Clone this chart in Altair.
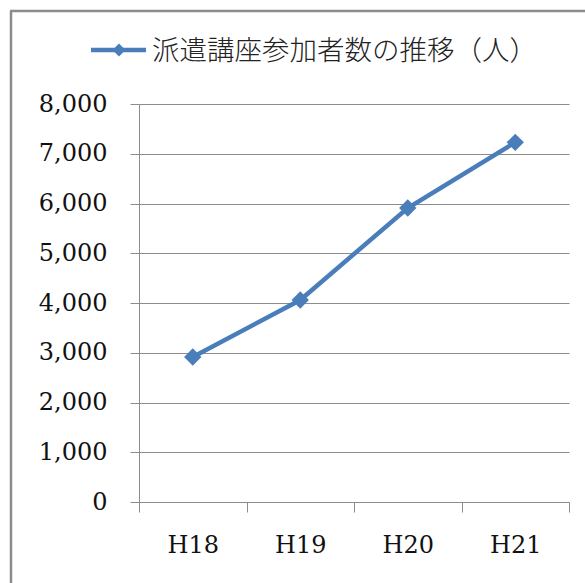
import altair as alt
import pandas as pd

# Participants in dispatched lectures by fiscal year
years = ["H18", "H19", "H20", "H21"]
participants = [2915, 4060, 5910, 7230]
y_ticks = [0, 1000, 2000, 3000, 4000, 5000, 6000, 7000, 8000]
legend_title = "派遣講座参加者数の推移（人）"

BLUE = "#4A7EBB"
GRAY = "#8C8C8C"
SERIF = "DejaVu Serif"

df = pd.DataFrame({"year": years, "count": participants})

W, H = 430, 398
PAD = {"left": 139, "top": 104, "right": 16, "bottom": 81}

x_enc = alt.X(
    "year:N",
    sort=years,
    scale=alt.Scale(type="band", paddingInner=0, paddingOuter=0),
    axis=alt.Axis(
        title=None,
        labelAngle=0,
        labelFont=SERIF,
        labelFontSize=24,
        labelColor="#111111",
        labelPadding=21,
        tickBand="extent",
        tickSize=10,
        tickColor=GRAY,
        domainColor=GRAY,
        grid=False,
    ),
)
y_enc = alt.Y(
    "count:Q",
    scale=alt.Scale(domain=[0, 8000], nice=False),
    axis=alt.Axis(
        title=None,
        values=y_ticks,
        format=",d",
        labelFont=SERIF,
        labelFontSize=24,
        labelColor="#111111",
        labelPadding=23,
        tickSize=9,
        tickColor=GRAY,
        domainColor=GRAY,
        gridColor=GRAY,
        grid=True,
    ),
)

base = alt.Chart(df)
line = base.mark_line(color=BLUE, strokeWidth=4.5).encode(x=x_enc, y=y_enc)
points = base.mark_point(
    shape="diamond", filled=True, size=300, color=BLUE, opacity=1
).encode(x=x_enc, y=y_enc)

one = alt.Data(values=[{}])

# Legend: line sample with diamond marker and the series name
leg_line = alt.Chart(one).mark_rule(color=BLUE, strokeWidth=4.5).encode(
    x=alt.value(-48), x2=alt.value(7), y=alt.value(-54)
)
leg_marker = alt.Chart(one).mark_point(
    shape="diamond", filled=True, size=170, color=BLUE, opacity=1
).encode(x=alt.value(-20), y=alt.value(-54))
leg_text = alt.Chart(one).mark_text(
    text=legend_title,
    font="Noto Sans CJK JP",
    fontSize=27.5,
    fontWeight=300,
    align="left",
    baseline="middle",
    color="#222222",
).encode(x=alt.value(13), y=alt.value(-52))

# Chart frame (left and top edges)
frame_left = alt.Chart(one).mark_rule(color=GRAY, strokeWidth=2.5).encode(
    x=alt.value(-128), y=alt.value(-93), y2=alt.value(490)
)
frame_top = alt.Chart(one).mark_rule(color=GRAY, strokeWidth=2.5).encode(
    x=alt.value(-129), x2=alt.value(460), y=alt.value(-93)
)

chart = (
    alt.layer(line, points, leg_line, leg_marker, leg_text, frame_left, frame_top)
    .properties(
        width=W,
        height=H,
        padding=PAD,
        autosize=alt.AutoSizeParams(type="none"),
        background="white",
    )
    .configure_view(stroke=None)
)

chart.save("out.html", embed_options={"renderer": "svg", "actions": False})
